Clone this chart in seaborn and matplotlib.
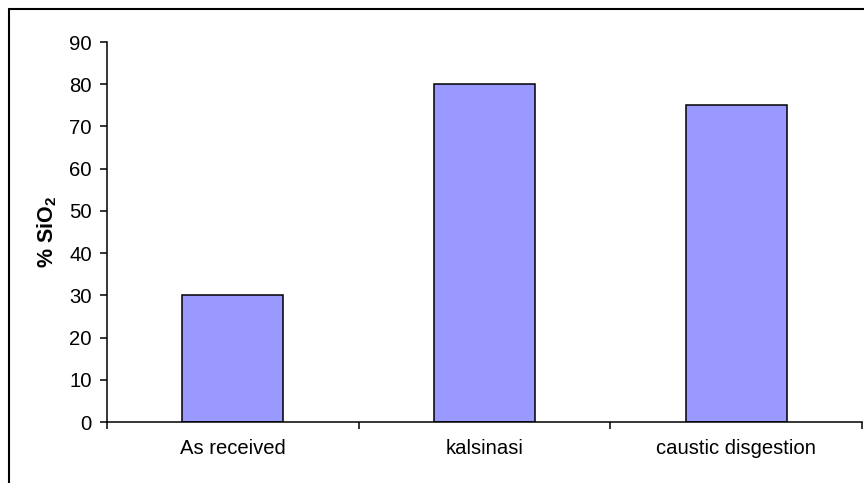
import matplotlib
matplotlib.use("Agg")
import matplotlib.pyplot as plt
from matplotlib.lines import Line2D
import seaborn as sns
import pandas as pd

categories = ["As received", "kalsinasi", "caustic disgestion"]
sio2_pct = [30, 80, 75]
y_ticks = [0, 10, 20, 30, 40, 50, 60, 70, 80, 90]

sns.set_theme(style="white")
plt.rcParams["font.family"] = ["Liberation Sans", "DejaVu Sans"]
plt.rcParams["mathtext.fontset"] = "custom"
plt.rcParams["mathtext.rm"] = "Liberation Sans"
plt.rcParams["mathtext.bf"] = "Liberation Sans:bold"

df = pd.DataFrame({"sample": categories, "sio2": sio2_pct})

fig = plt.figure(figsize=(8.64, 4.83), dpi=100)
ax = fig.add_axes([107 / 864, 1 - 422 / 483, 755 / 864, 380 / 483])

sns.barplot(data=df, x="sample", y="sio2", color="#9999FF", saturation=1,
            width=0.4, edgecolor="black", linewidth=1.1, ax=ax)

ax.set_xlim(-0.5, len(categories) - 0.5)
ax.set_ylim(0, 90)
ax.set_yticks(y_ticks)
ax.tick_params(axis="y", direction="out", length=5, width=1.1, pad=6,
               labelsize=14.6, colors="black", left=True)

# category boundaries carry the tick marks, centres carry the labels
ax.set_xticks([i - 0.5 for i in range(len(categories) + 1)])
ax.set_xticklabels([])
ax.tick_params(axis="x", which="major", direction="out", length=5, width=1.1,
               bottom=True, colors="black")
ax.set_xticks(range(len(categories)), categories, minor=True)
ax.tick_params(axis="x", which="minor", length=0, pad=12, labelsize=14.6,
               labelcolor="black")

for side in ["top", "right"]:
    ax.spines[side].set_visible(False)
for side in ["left", "bottom"]:
    ax.spines[side].set_color("black")
    ax.spines[side].set_linewidth(1.1)

ax.set_xlabel("")
ax.set_ylabel(r"% SiO$_{\mathbf{2}}$", fontsize=15.5, fontweight="bold",
              color="black")
ax.yaxis.set_label_coords(-0.064, 0.5)

# chart area border (left and top edges)
fig.add_artist(Line2D([9 / 864, 9 / 864], [0, 1 - 9 / 483],
                      transform=fig.transFigure, color="black", linewidth=1.5))
fig.add_artist(Line2D([9 / 864, 1], [1 - 9 / 483, 1 - 9 / 483],
                      transform=fig.transFigure, color="black", linewidth=1.5))

fig.savefig("out.png", dpi=100)
